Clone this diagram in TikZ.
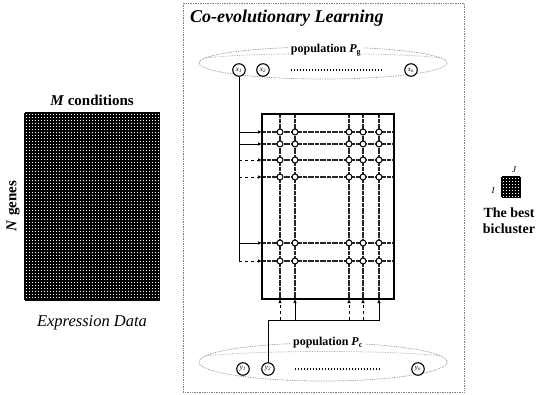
\documentclass[tikz,border=0pt]{standalone}
\usepackage{fontspec}
\setmainfont{Liberation Serif}
\usetikzlibrary{arrows.meta}
\begin{document}
\begin{tikzpicture}[x=1pt,y=-1pt,
  lbl/.style={inner sep=0pt, font=\bfseries\fontsize{12}{14}\selectfont},
  indiv/.style={circle, draw, line width=1.1pt, minimum size=12.5pt, inner sep=0pt, fill=white, font=\itshape\fontsize{7}{7}\selectfont},
  gline/.style={line width=1.1pt, black!85, dash pattern=on 2pt off 0.4pt},
  cross/.style={circle, draw, line width=1pt, fill=white, minimum size=6pt, inner sep=0pt},
  popring/.style={gray, densely dotted, line width=0.7pt},
  tip/.style={-{Latex[length=4pt,width=3.5pt]}},
  mat/.style={line width=1.9pt},
]
\useasboundingbox (0,0) rectangle (540,395);

% ---------- Expression data ----------
\fill[white] (25,113) rectangle (159,300);
\foreach \k in {0,...,44}{ \draw[mat] ({25+3*\k},113) -- ({25+3*\k},300); }
\foreach \k in {0,...,62}{ \draw[mat] (25,{113+3*\k}) -- (159,{113+3*\k}); }
\draw[line width=1pt] (25,113) rectangle (159,300);
\node[lbl, font=\bfseries\fontsize{15}{17}\selectfont] (mc) at (92,100) {\textit{M} conditions};
\node[lbl, font=\bfseries\fontsize{15}{17}\selectfont, rotate=90] (ng) at (13,206) {\textit{N} genes};
\node[inner sep=0pt, font=\itshape\fontsize{16.5}{18}\selectfont] (ed) at (92,323) {Expression Data};

% ---------- Container ----------
\draw[popring] (183,3) rectangle (464,392);
\node[anchor=west, inner sep=0pt, font=\bfseries\itshape\fontsize{18}{20}\selectfont] (title) at (190,18) {Co-evolutionary Learning};

% ---------- Population P_g ----------
\draw[popring] (323,63) ellipse [x radius=124, y radius=16];
\draw[popring, gray!70] (205,58) .. controls (260,52) and (390,52) .. (442,58);
\node[lbl, fill=white, inner xsep=2pt, inner ysep=1pt] (pg) at (326,50) {population {\itshape P}\textsubscript{g}};
\node[indiv] (x1) at (239,70) {x\textsubscript{1}};
\node[indiv] (x2) at (263,70) {x\textsubscript{2}};
\node[indiv] (xn) at (411,70) {x\textsubscript{n}};
\draw[line width=1.3pt, dash pattern=on 1.5pt off 1.5pt, shorten <=21pt, shorten >=23pt] (x2) -- (xn);

% ---------- Population P_c ----------
\draw[popring] (323,362) ellipse [x radius=124, y radius=19];
\draw[popring, gray!70] (205,356) .. controls (260,350) and (390,350) .. (442,356);
\node[lbl, fill=white, inner xsep=2pt, inner ysep=1pt] (pc) at (328,343) {population {\itshape P}\textsubscript{c}};
\node[indiv] (y1) at (243,369) {y\textsubscript{1}};
\node[indiv] (y2) at (268,369) {y\textsubscript{2}};
\node[indiv] (yn) at (418,369) {y\textsubscript{n}};
\draw[line width=1.3pt, dash pattern=on 1.5pt off 1.5pt, shorten <=20pt, shorten >=30pt] (y2) -- (yn);

% ---------- Bicluster grid ----------
\coordinate (gTL) at (262,114);
\coordinate (gBR) at (394,299);
\foreach \r [count=\i] in {132,144,160,177,243,261}{
  \coordinate (rL\i) at (262,\r);
  \coordinate (rR\i) at (394,\r);
  \coordinate (rS\i) at (239,\r);
  \draw[gline] (rL\i) -- (rR\i);
}
\foreach \c [count=\j] in {280,295,349,363,379}{
  \coordinate (cT\j) at (\c,114);
  \coordinate (cB\j) at (\c,299);
  \coordinate (cS\j) at (\c,320);
  \draw[gline] (cT\j) -- (cB\j);
}
\draw[line width=1.1pt] (gTL) rectangle (gBR);
\foreach \r [count=\i] in {132,144,160,177,243,261}{
  \foreach \c [count=\j] in {280,295,349,363,379}{
    \node[cross] (n\i-\j) at (\c,\r) {};
  }
}

% ---------- Connections from x1 to rows ----------
\coordinate (trunk) at (239,261);
\draw[line width=0.9pt] (x1) -- (trunk);
\foreach \i in {1,2,5}{ \draw[tip, line width=0.9pt] (rS\i) -- (rL\i); }
\foreach \i in {3,4,6}{ \draw[tip, line width=0.9pt, dashed] (rS\i) -- (rL\i); }

% ---------- Connections from y2 to columns ----------
\coordinate (barL) at (268,320);
\coordinate (barR) at (380,320);
\draw[line width=0.9pt] (y2) -- (barL) -- (barR);
\foreach \j in {2,5}{ \draw[tip, line width=0.9pt] (cS\j) -- (cB\j); }
\foreach \j in {1,3,4}{ \draw[tip, line width=0.9pt, dashed] (cS\j) -- (cB\j); }

% ---------- The best bicluster ----------
\fill[white] (502,177) rectangle (520,197);
\foreach \k in {0,...,6}{ \draw[line width=1.6pt] ({502+3*\k},177) -- ({502+3*\k},197); }
\foreach \k in {0,...,6}{ \draw[line width=1.6pt] (502,{177+3*\k}) -- (520,{177+3*\k}); }
\draw[line width=0.8pt] (502,177) rectangle (520,197);
\node[inner sep=0pt, font=\itshape\fontsize{9}{9}\selectfont] (J) at (514,170) {J};
\node[inner sep=0pt, font=\itshape\fontsize{9}{9}\selectfont] (I) at (493,191) {I};
\node[lbl, align=center, font=\bfseries\fontsize{14}{16}\selectfont] (best) at (509,221) {The best\\bicluster};
\end{tikzpicture}
\end{document}
